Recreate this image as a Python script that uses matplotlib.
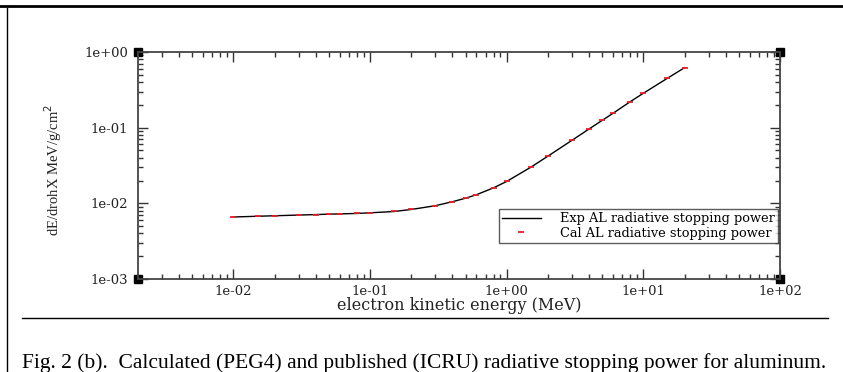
import numpy as np
import matplotlib.pyplot as plt
from matplotlib.lines import Line2D
from matplotlib.ticker import LogLocator, FuncFormatter, NullFormatter

# энергия электрона, МэВ
energy = [0.01, 0.015, 0.02, 0.03, 0.04, 0.05, 0.06, 0.08, 0.1, 0.15, 0.2,
          0.3, 0.4, 0.5, 0.6, 0.8, 1.0, 1.5, 2.0, 3.0, 4.0, 5.0, 6.0, 8.0,
          10.0, 15.0, 20.0]
# радиационная тормозная способность Al (ICRU), МэВ см2/г
exp_power = [6.6e-3, 6.75e-3, 6.85e-3, 7.0e-3, 7.1e-3, 7.2e-3, 7.25e-3,
             7.35e-3, 7.5e-3, 7.8e-3, 8.3e-3, 9.3e-3, 1.05e-2, 1.17e-2,
             1.3e-2, 1.6e-2, 1.95e-2, 3.0e-2, 4.2e-2, 6.8e-2, 9.6e-2,
             0.125, 0.155, 0.22, 0.285, 0.45, 0.62]
# расчет PEG4
cal_power = [6.6e-3, 6.75e-3, 6.85e-3, 7.0e-3, 7.1e-3, 7.2e-3, 7.25e-3,
             7.35e-3, 7.5e-3, 7.8e-3, 8.3e-3, 9.3e-3, 1.05e-2, 1.17e-2,
             1.3e-2, 1.6e-2, 1.95e-2, 3.0e-2, 4.2e-2, 6.8e-2, 9.6e-2,
             0.125, 0.155, 0.22, 0.285, 0.45, 0.62]

x_ticks = [1e-2, 1e-1, 1e0, 1e1, 1e2]
y_ticks = [1e-3, 1e-2, 1e-1, 1e0]

W, H = 843, 372
fig = plt.figure(figsize=(W / 100, H / 100), dpi=100)
ax = fig.add_axes([138 / W, 1 - 279 / H, 642 / W, 227 / H])

ax.plot(energy, exp_power, color='black', lw=1.0,
        label='Exp AL radiative stopping power')
ax.plot(energy, cal_power, ls='none', marker='_', ms=4, mew=1.3,
        color='#e8202a', label='Cal AL radiative stopping power')

ax.set_xscale('log')
ax.set_yscale('log')
ax.set_xlim(2e-3, 1e2)
ax.set_ylim(1e-3, 1e0)

ax.set_xticks(x_ticks)
ax.set_yticks(y_ticks)
ax.xaxis.set_minor_locator(LogLocator(base=10, subs=np.arange(2, 10)))
ax.yaxis.set_minor_locator(LogLocator(base=10, subs=np.arange(2, 10)))
fmt = FuncFormatter(lambda v, p: f'{v:.0e}')
ax.xaxis.set_major_formatter(fmt)
ax.yaxis.set_major_formatter(fmt)
ax.xaxis.set_minor_formatter(NullFormatter())
ax.yaxis.set_minor_formatter(NullFormatter())

ax.tick_params(which='both', direction='in', top=True, right=True,
               color='#333333', width=1.0)
ax.tick_params(which='major', length=7)
ax.tick_params(which='minor', length=3.5)
ax.tick_params(axis='x', pad=4)
ax.tick_params(axis='y', pad=7)
for lab in ax.get_xticklabels() + ax.get_yticklabels():
    lab.set_family('DejaVu Serif')
    lab.set_fontsize(9.5)
    lab.set_color('#222222')

for s in ax.spines.values():
    s.set_color('#444444')
    s.set_linewidth(1.3)

# черные квадраты в углах (как в xmgrace)
ax.plot([0, 1, 0, 1], [0, 0, 1, 1], 's', ms=5.5, color='black',
        transform=ax.transAxes, clip_on=False)

ax.set_xlabel('electron kinetic energy (MeV)', family='DejaVu Serif',
              fontsize=11.5, color='#222222')
ax.xaxis.set_label_coords(0.5, -0.118)
ax.xaxis.label.set_va('center')
ax.set_ylabel('dE/drohX MeV/g/cm$^2$', family='Liberation Serif',
              fontsize=10.5, color='#222222')
ax.yaxis.set_label_coords(-0.132, 0.48)
ax.yaxis.label.set_va('center')

leg = ax.legend(loc='lower right', bbox_to_anchor=(0.997, 0.159),
                prop={'family': 'DejaVu Serif', 'size': 9.3},
                frameon=True, fancybox=False, edgecolor='#333333',
                borderpad=0.25, labelspacing=0.1, handlelength=3.0,
                handletextpad=1.5, borderaxespad=0)
leg.get_frame().set_linewidth(1.0)

# рамка страницы и подпись
fig.add_artist(Line2D([0, 1], [1 - 6 / H, 1 - 6 / H], color='black', lw=2))
fig.add_artist(Line2D([7 / W, 7 / W], [0, 1 - 8 / H], color='black', lw=1))
fig.add_artist(Line2D([22 / W, 828 / W], [1 - 318 / H, 1 - 318 / H],
                      color='black', lw=1))
fig.text(22 / W, 1 - 368 / H,
         'Fig. 2 (b).  Calculated (PEG4) and published (ICRU) radiative '
         'stopping power for aluminum.',
         family='Liberation Serif', fontsize=15.5, va='baseline', ha='left')

plt.savefig('out.png', dpi=100)
